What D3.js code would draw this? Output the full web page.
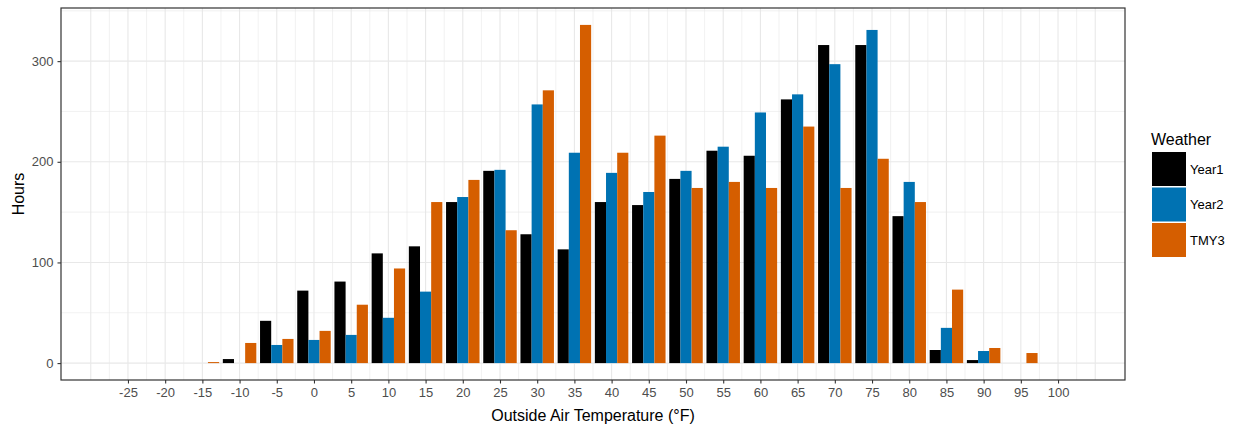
<!DOCTYPE html>
<html>
<head>
<meta charset="utf-8">
<script src="https://cdn.jsdelivr.net/npm/d3@7"></script>
<style>
  html, body { margin: 0; padding: 0; background: #fff; }
  svg { display: block; font-family: "Liberation Sans", Arial, sans-serif; }
</style>
</head>
<body>
<svg id="chart" width="1238" height="428"></svg>
<script>
// Temperature bins (°F), bin width 5, centred on each label
const bins = [-25, -20, -15, -10, -5, 0, 5, 10, 15, 20, 25, 30, 35, 40, 45, 50,
              55, 60, 65, 70, 75, 80, 85, 90, 95, 100];

// Hours per bin for each weather file
const year1 = [0, 0, 0, 4, 42, 72, 81, 109, 116, 160, 191, 128, 113, 160, 157, 183,
               211, 206, 262, 316, 316, 146, 13, 3, 0, 0];
const year2 = [0, 0, 0, 0, 18, 23, 28, 45, 71, 165, 192, 257, 209, 189, 170, 191,
               215, 249, 267, 297, 331, 180, 35, 12, 0, 0];
const tmy3  = [0, 0, 1, 20, 24, 32, 58, 94, 160, 182, 132, 271, 336, 209, 226, 174,
               180, 174, 235, 174, 203, 160, 73, 15, 10, 0];

const seriesNames = ["Year1", "Year2", "TMY3"];
const seriesValues = [year1, year2, tmy3];
const seriesColors = ["#000000", "#0072B2", "#D55E00"];

const xTicks = bins;
const yTicks = [0, 100, 200, 300];

const binWidth = 5;

const svg = d3.select("#chart");
const panel = { left: 61, right: 1125, top: 8, bottom: 380 };

// Continuous x axis: bin edges expanded by 5% on each side
const xLo = bins[0] - binWidth / 2, xHi = bins[bins.length - 1] + binWidth / 2;
const xPad = (xHi - xLo) * 0.05;
const x = d3.scaleLinear().domain([xLo - xPad, xHi + xPad]).range([panel.left, panel.right]);

const yMax = d3.max(seriesValues.flat());
const yPad = yMax * 0.05;
const y = d3.scaleLinear().domain([-yPad, yMax + yPad]).range([panel.bottom, panel.top]);

// Panel background
svg.append("rect")
  .attr("x", panel.left).attr("y", panel.top)
  .attr("width", panel.right - panel.left).attr("height", panel.bottom - panel.top)
  .attr("fill", "#fff");

const grid = svg.append("g").attr("stroke", "#e8e8e8");

// Minor (thin) and major vertical gridlines every 2.5 °F
const vLines = d3.range(-30, 105.01, 2.5).filter(v => v > x.domain()[0] && v < x.domain()[1]);
grid.selectAll(".v").data(vLines).join("line")
  .attr("x1", d => x(d)).attr("x2", d => x(d))
  .attr("y1", panel.top).attr("y2", panel.bottom)
  .attr("stroke-width", d => d % 5 === 0 ? 1.1 : 0.6);

// Horizontal gridlines every 50 hours
const hLines = d3.range(0, 351, 50).filter(v => v < y.domain()[1]);
grid.selectAll(".h").data(hLines).join("line")
  .attr("x1", panel.left).attr("x2", panel.right)
  .attr("y1", d => y(d)).attr("y2", d => y(d))
  .attr("stroke-width", d => d % 100 === 0 ? 1.1 : 0.6);

// Dodged bars: each bin holds three bars filling 90% of the bin width
const groupWidth = binWidth * 0.9;
const barUnits = groupWidth / seriesNames.length;
const barData = [];
seriesValues.forEach((vals, si) => {
  vals.forEach((v, bi) => {
    if (v > 0) barData.push({ s: si, c: bins[bi], v: v });
  });
});
const barLeft = d => d.c - groupWidth / 2 + d.s * barUnits;
svg.append("g").selectAll("rect").data(barData).join("rect")
  .attr("x", d => x(barLeft(d)))
  .attr("width", d => x(barLeft(d) + barUnits) - x(barLeft(d)))
  .attr("y", d => y(d.v))
  .attr("height", d => y(0) - y(d.v))
  .attr("fill", d => seriesColors[d.s]);

// Panel border
svg.append("rect")
  .attr("x", panel.left).attr("y", panel.top)
  .attr("width", panel.right - panel.left).attr("height", panel.bottom - panel.top)
  .attr("fill", "none").attr("stroke", "#333333").attr("stroke-width", 1.2);

// Axes
const xAxis = d3.axisBottom(x).tickValues(xTicks).tickSize(3.5).tickPadding(4).tickFormat(d3.format("d"));
const gx = svg.append("g").attr("transform", `translate(0,${panel.bottom})`).call(xAxis);
gx.select(".domain").remove();
gx.selectAll(".tick line").attr("stroke", "#333333").attr("stroke-width", 1.1);
gx.selectAll(".tick text").attr("fill", "#4d4d4d").attr("font-size", 13)
  .attr("font-family", "Liberation Sans, Arial, sans-serif")
  .text(d => d < 0 ? "-" + Math.abs(d) : String(d));

const yAxis = d3.axisLeft(y).tickValues(yTicks).tickSize(3.5).tickPadding(4).tickFormat(d3.format("d"));
const gy = svg.append("g").attr("transform", `translate(${panel.left},0)`).call(yAxis);
gy.select(".domain").remove();
gy.selectAll(".tick line").attr("stroke", "#333333").attr("stroke-width", 1.1);
gy.selectAll(".tick text").attr("fill", "#4d4d4d").attr("font-size", 13)
  .attr("font-family", "Liberation Sans, Arial, sans-serif");

// Axis titles
svg.append("text")
  .attr("x", (panel.left + panel.right) / 2).attr("y", 421)
  .attr("text-anchor", "middle").attr("font-size", 16).attr("fill", "#000")
  .text("Outside Air Temperature (°F)");
svg.append("text")
  .attr("transform", `translate(24,${(panel.top + panel.bottom) / 2}) rotate(-90)`)
  .attr("text-anchor", "middle").attr("font-size", 16).attr("fill", "#000")
  .text("Hours");

// Legend
const legend = svg.append("g").attr("transform", "translate(1151,0)");
legend.append("text").attr("x", 0).attr("y", 145)
  .attr("font-size", 16).attr("fill", "#000").text("Weather");
const keySize = 34;
const keyTop = 152;
legend.selectAll(".key").data(seriesNames).join("rect")
  .attr("x", 1).attr("y", (d, i) => keyTop + i * (keySize + 1.5))
  .attr("width", keySize).attr("height", keySize)
  .attr("fill", (d, i) => seriesColors[i]);
legend.selectAll(".lab").data(seriesNames).join("text")
  .attr("x", keySize + 5).attr("y", (d, i) => keyTop + i * (keySize + 1.5) + keySize / 2)
  .attr("dy", "0.35em").attr("font-size", 13).attr("fill", "#000")
  .text(d => d);
</script>
</body>
</html>
